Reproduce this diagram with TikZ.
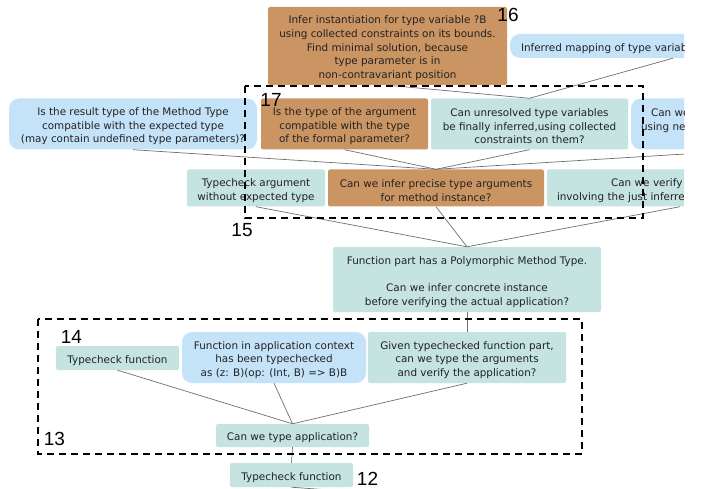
\documentclass[tikz,border=0pt]{standalone}
\usepackage{fontspec}
\setmainfont{DejaVu Sans}
\newfontfamily\labelfont{Liberation Sans}
\definecolor{tealc}{HTML}{C4E3E1}
\definecolor{bluec}{HTML}{C5E3F8}
\definecolor{brownc}{HTML}{CA9563}
\definecolor{txt}{HTML}{222222}
\definecolor{edgec}{HTML}{6E6E6E}
\newcommand\tstrut{\rule{0pt}{12.6pt}}
\tikzset{
  box/.style={inner sep=0pt, align=center, text=txt, font=\fontsize{10.4}{13.7}\selectfont},
  tealbox/.style={box, fill=tealc, rounded corners=2pt},
  brownbox/.style={box, fill=brownc, rounded corners=2pt},
  bluebox/.style={box, fill=bluec, rounded corners=10pt},
  num/.style={inner sep=0pt, text=black, font=\labelfont\fontsize{19}{19}\selectfont},
  link/.style={draw=edgec, line width=0.7pt},
  cluster/.style={draw=black, line width=1.1pt, dash pattern=on 7pt off 5pt}
}
\begin{document}
\begin{tikzpicture}[x=1pt,y=-1pt]
\useasboundingbox (0,0) rectangle (701,489);
\clip (0,0) rectangle (684,489);
% nodes
\node[brownbox, minimum width=239pt, minimum height=78pt] (n1) at (387.5,46)
  {\tstrut Infer instantiation for type variable ?B\\using collected constraints on its bounds.\\Find minimal solution, because\\type parameter is in\\non-contravariant position};
\node[bluebox, minimum width=326pt, minimum height=24pt, text width=304pt, inner xsep=11pt, align=left] (n2) at (673,46)
  {\tstrut Inferred mapping of type variables};
\node[bluebox, minimum width=248pt, minimum height=51pt] (n3) at (133,124)
  {\tstrut Is the result type of the Method Type\\compatible with the expected type\\(may contain undefined type parameters)?};
\node[brownbox, minimum width=167pt, minimum height=51pt] (n4) at (344.5,124)
  {\tstrut Is the type of the argument\\compatible with the type\\of the formal parameter?};
\node[tealbox, minimum width=197pt, minimum height=51pt] (n5) at (529.5,124)
  {\tstrut Can unresolved type variables\\be finally inferred,using collected\\constraints on them?};
\node[bluebox, minimum width=248pt, minimum height=51pt, text width=228pt, inner xsep=10pt, align=left] (n6) at (755,124)
  {\tstrut\hspace*{10pt}Can we verify\\using new\\\mbox{}};
\node[tealbox, minimum width=138pt, minimum height=37pt] (n7) at (256,188)
  {\tstrut Typecheck argument\\without expected type};
\node[brownbox, minimum width=216pt, minimum height=37pt] (n8) at (436,188)
  {\tstrut Can we infer precise type arguments\\for method instance?};
\node[tealbox, minimum width=266pt, minimum height=37pt, text width=246pt, inner xsep=10pt, align=left] (n9) at (680,188)
  {\tstrut\hspace*{54pt}Can we verify application\\involving the just inferred type arguments?};
\node[tealbox, minimum width=268pt, minimum height=65pt] (n10) at (467,279.5)
  {\tstrut Function part has a Polymorphic Method Type.\\[13.7pt]Can we infer concrete instance\\before verifying the actual application?};
\node[tealbox, minimum width=123pt, minimum height=24pt] (n11) at (117.5,358)
  {\tstrut Typecheck function};
\node[bluebox, minimum width=184pt, minimum height=51pt] (n12) at (274,357.5)
  {\tstrut Function in application context\\has been typechecked\\as (z: B)(op: (Int, B) => B)B};
\node[tealbox, minimum width=198pt, minimum height=51pt] (n13) at (467,357.5)
  {\tstrut Given typechecked function part,\\can we type the arguments\\and verify the application?};
\node[tealbox, minimum width=153pt, minimum height=23pt] (n14) at (292.5,435.5)
  {\tstrut Can we type application?};
\node[tealbox, minimum width=123pt, minimum height=24pt] (n15) at (291.5,475)
  {\tstrut Typecheck function};
\coordinate (out) at (600,510);
% connectors
\draw[link] (n15.north) -- (n14.south);
\draw[link] (n15.south) -- (out);
\draw[link] (n14.north) -- (n11.south);
\draw[link] (n14.north) -- (n12.south);
\draw[link] (n14.north) -- (n13.south);
\draw[link] (n13.north) -- (n10.south);
\draw[link] (n10.north) -- (n7.south);
\draw[link] (n10.north) -- (n8.south);
\draw[link] (n10.north) -- (n9.south);
\draw[link] (n8.north) -- (n3.south);
\draw[link] (n8.north) -- (n4.south);
\draw[link] (n8.north) -- (n5.south);
\draw[link] (n8.north) -- (n6.south);
\draw[link] (n5.north) -- (n1.south);
\draw[link] (n5.north) -- (n2.south);
% clusters
\draw[cluster] (245,86) rectangle (643,218);
\draw[cluster] (38,319) rectangle (582,454);
% labels
\node[num] (l16) at (508,14.5) {16};
\node[num] (l17) at (271,100) {17};
\node[num] (l15) at (242,230.5) {15};
\node[num] (l14) at (71.5,336.5) {14};
\node[num] (l13) at (54.5,439) {13};
\node[num] (l12) at (367.5,478.5) {12};
\end{tikzpicture}
\end{document}
